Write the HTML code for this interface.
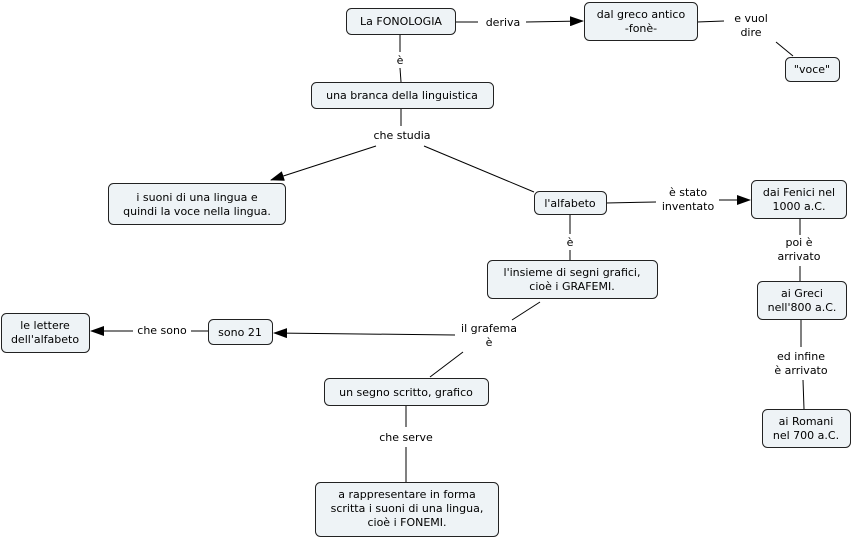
<!DOCTYPE html>
<html><head><meta charset="utf-8"><style>
html,body{margin:0;padding:0;background:#fff;width:853px;height:538px;overflow:hidden}
text{font-family:"DejaVu Sans","Liberation Sans",sans-serif;font-size:11px;fill:#000}
.n{fill:#eef3f6;stroke:#222;stroke-width:1}
.l{stroke:#000;stroke-width:1;fill:none}
</style></head><body>
<svg width="853" height="538" xmlns="http://www.w3.org/2000/svg">
<defs><marker id="a" markerWidth="14" markerHeight="10" refX="13" refY="5" orient="auto" markerUnits="userSpaceOnUse"><path d="M0,0 L14,5 L0,10 z" fill="#000"/></marker></defs>
<!-- links -->
<line class="l" x1="455" y1="22" x2="478" y2="22"/>
<line class="l" x1="526" y1="22" x2="583" y2="21" marker-end="url(#a)"/>
<line class="l" x1="697" y1="22" x2="724" y2="21"/>
<line class="l" x1="776" y1="42" x2="793" y2="56"/>
<line class="l" x1="400" y1="34" x2="400" y2="52"/>
<line class="l" x1="400" y1="68" x2="401" y2="82"/>
<line class="l" x1="401" y1="108" x2="401" y2="126"/>
<line class="l" x1="376" y1="146" x2="271" y2="180" marker-end="url(#a)"/>
<line class="l" x1="424" y1="146" x2="534" y2="192"/>
<line class="l" x1="606" y1="203" x2="656" y2="202"/>
<line class="l" x1="719" y1="200" x2="750" y2="200" marker-end="url(#a)"/>
<line class="l" x1="570" y1="214" x2="570" y2="234"/>
<line class="l" x1="570" y1="250" x2="570" y2="260"/>
<line class="l" x1="800" y1="219" x2="800" y2="235"/>
<line class="l" x1="800" y1="266" x2="800" y2="281"/>
<line class="l" x1="801" y1="319" x2="801" y2="347"/>
<line class="l" x1="803" y1="380" x2="804" y2="409"/>
<line class="l" x1="540" y1="302" x2="512" y2="320"/>
<line class="l" x1="455" y1="335" x2="274" y2="333" marker-end="url(#a)"/>
<line class="l" x1="463" y1="352" x2="430" y2="377"/>
<line class="l" x1="208" y1="331" x2="191" y2="331"/>
<line class="l" x1="133" y1="331" x2="91" y2="331" marker-end="url(#a)"/>
<line class="l" x1="406" y1="405" x2="406" y2="427"/>
<line class="l" x1="406" y1="447" x2="406" y2="482"/>
<!-- nodes -->
<rect class="n" x="346.5" y="8.5" width="109" height="26" rx="5"/>
<text x="401" y="25" text-anchor="middle">La FONOLOGIA</text>
<rect class="n" x="584.5" y="2.5" width="113" height="38" rx="5"/>
<text x="641" y="18" text-anchor="middle">dal greco antico</text>
<text x="641" y="32" text-anchor="middle">-fonè-</text>
<rect class="n" x="785.5" y="57.5" width="54" height="24" rx="5"/>
<text x="812" y="73" text-anchor="middle">"voce"</text>
<rect class="n" x="311.5" y="82.5" width="182" height="26" rx="5"/>
<text x="402" y="99" text-anchor="middle">una branca della linguistica</text>
<rect class="n" x="108.5" y="183.5" width="177" height="41" rx="5"/>
<text x="197" y="201" text-anchor="middle">i suoni di una lingua e</text>
<text x="197" y="215" text-anchor="middle">quindi la voce nella lingua.</text>
<rect class="n" x="534.5" y="191.5" width="72" height="23" rx="5"/>
<text x="570" y="207" text-anchor="middle">l'alfabeto</text>
<rect class="n" x="751.5" y="180.5" width="95" height="38" rx="5"/>
<text x="799" y="196" text-anchor="middle">dai Fenici nel</text>
<text x="799" y="210" text-anchor="middle">1000 a.C.</text>
<rect class="n" x="487.5" y="260.5" width="170" height="38" rx="5"/>
<text x="572" y="276" text-anchor="middle">l'insieme di segni grafici,</text>
<text x="572" y="290" text-anchor="middle">cioè i GRAFEMI.</text>
<rect class="n" x="757.5" y="281.5" width="89" height="38" rx="5"/>
<text x="802" y="297" text-anchor="middle">ai Greci</text>
<text x="802" y="311" text-anchor="middle">nell'800 a.C.</text>
<rect class="n" x="1.5" y="313.5" width="88" height="39" rx="5"/>
<text x="45" y="329" text-anchor="middle">le lettere</text>
<text x="45" y="343" text-anchor="middle">dell'alfabeto</text>
<rect class="n" x="208.5" y="319.5" width="64" height="25" rx="5"/>
<text x="240" y="336" text-anchor="middle">sono 21</text>
<rect class="n" x="324.5" y="378.5" width="164" height="27" rx="5"/>
<text x="406" y="396" text-anchor="middle">un segno scritto, grafico</text>
<rect class="n" x="762.5" y="409.5" width="88" height="38" rx="5"/>
<text x="806" y="425" text-anchor="middle">ai Romani</text>
<text x="806" y="439" text-anchor="middle">nel 700 a.C.</text>
<rect class="n" x="315.5" y="482.5" width="183" height="54" rx="5"/>
<text x="407" y="498" text-anchor="middle">a rappresentare in forma</text>
<text x="407" y="512" text-anchor="middle">scritta i suoni di una lingua,</text>
<text x="407" y="526" text-anchor="middle">cioè i FONEMI.</text>
<!-- link labels -->
<text x="503" y="26" text-anchor="middle">deriva</text>
<text x="751" y="22" text-anchor="middle">e vuol</text>
<text x="751" y="36" text-anchor="middle">dire</text>
<text x="400" y="64" text-anchor="middle">è</text>
<text x="402" y="139" text-anchor="middle">che studia</text>
<text x="688" y="196" text-anchor="middle">è stato</text>
<text x="688" y="210" text-anchor="middle">inventato</text>
<text x="570" y="246" text-anchor="middle">è</text>
<text x="799" y="246" text-anchor="middle">poi è</text>
<text x="799" y="260" text-anchor="middle">arrivato</text>
<text x="489" y="332" text-anchor="middle">il grafema</text>
<text x="489" y="346" text-anchor="middle">è</text>
<text x="162" y="334" text-anchor="middle">che sono</text>
<text x="801" y="360" text-anchor="middle">ed infine</text>
<text x="801" y="374" text-anchor="middle">è arrivato</text>
<text x="406" y="441" text-anchor="middle">che serve</text>
</svg>
</body></html>
